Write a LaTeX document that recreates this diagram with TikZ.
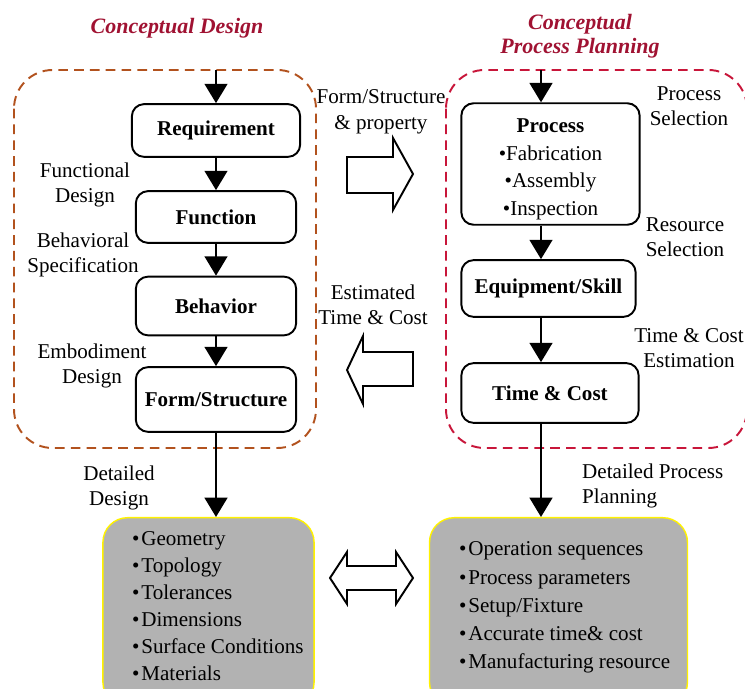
\documentclass[tikz,border=0pt]{standalone}
\usepackage{fontspec}
\setmainfont{Liberation Serif}
\usetikzlibrary{arrows.meta}
\definecolor{cdbrown}{RGB}{178,82,30}
\definecolor{cpred}{RGB}{200,22,58}
\definecolor{ttlred}{RGB}{160,18,50}
\definecolor{boxgray}{RGB}{178,178,178}
\def\px{0.5669pt}

\begin{document}
\begin{tikzpicture}[x=0.02cm,y=-0.02cm,
  every node/.style={font=\fontsize{12}{14.5}\selectfont},
  blk/.style={draw,line width=1.1pt,rounded corners=7pt,align=center,inner sep=0pt,
    font=\fontsize{12}{14.5}\selectfont\bfseries},
  lbl/.style={align=center},
  ttl/.style={align=center,text=ttlred,font=\fontsize{12.5}{13.6}\selectfont\bfseries\itshape},
  arr/.style={line width=1.1pt,-{Triangle[width=13pt,length=11pt]}},
  hollow/.style={line width=1.1pt,fill=white,line join=miter},
  grp/.style={line width=1.1pt,dash pattern=on 5.5pt off 3.5pt,rounded corners=22pt},
  res/.style={draw=yellow,line width=0.8pt,fill=boxgray,rounded corners=14pt,inner sep=0pt}]
  \useasboundingbox (0,0) rectangle (745,689);
  % groups
  \draw[grp,cdbrown] (14,70) rectangle (316,448);
  \draw[grp,cpred] (446,70) rectangle (747,448);
  \node[ttl] (ttlL) at (177,28) {Conceptual Design};
  \node[ttl] (ttlR) at (580,36) {Conceptual\\Process Planning};
  % conceptual design column
  \node[blk,minimum width=169*\px,minimum height=53*\px] (req) at (216,130.5) {Requirement};
  \node[blk,minimum width=161*\px,minimum height=52*\px] (func) at (216,217) {Function};
  \node[blk,minimum width=161*\px,minimum height=59*\px] (beh) at (216,306) {Behavior};
  \node[blk,minimum width=161*\px,minimum height=65*\px] (form) at (216,399.5) {Form/Structure};
  % process planning column
  \node[blk,minimum width=179*\px,minimum height=122*\px,font=\fontsize{12}{15.6}\selectfont]
    (proc) at (550.5,164) {\rule{0pt}{14pt}\textbf{Process}\\\textbullet Fabrication\\\textbullet Assembly\\\textbullet Inspection};
  \node[blk,minimum width=175*\px,minimum height=57*\px] (equip) at (548.5,288.5) {Equipment/Skill};
  \node[blk,minimum width=178*\px,minimum height=60*\px] (tc) at (550,393) {Time \& Cost};
  % detailed results
  \node[res,minimum width=212*\px,minimum height=190*\px,anchor=north] (geo) at (208.5,517) {};
  \node[res,minimum width=259*\px,minimum height=190*\px,anchor=north] (ops) at (558.5,517) {};
  \node[align=left,anchor=west,font=\fontsize{12}{15.4}\selectfont] (geolist) at (126,606)
    {\textbullet\hspace{1pt}Geometry\\\textbullet\hspace{1pt}Topology\\\textbullet\hspace{1pt}Tolerances\\\textbullet\hspace{1pt}Dimensions\\\textbullet\hspace{1pt}Surface Conditions\\\textbullet\hspace{1pt}Materials};
  \node[align=left,anchor=west,font=\fontsize{12}{16}\selectfont] (opslist) at (453,607.5)
    {\textbullet\hspace{1pt}Operation sequences\\\textbullet\hspace{1pt}Process parameters\\\textbullet\hspace{1pt}Setup/Fixture\\\textbullet\hspace{1pt}Accurate time\& cost\\\textbullet\hspace{1pt}Manufacturing resource};
  % labels
  \node[lbl] (lfd) at (85,185) {Functional\\Design};
  \node[lbl] (lbs) at (83,255) {Behavioral\\Specification};
  \node[lbl] (led) at (92,366) {Embodiment\\Design};
  \node[lbl] (ldd) at (119,488) {Detailed\\Design};
  \node[lbl] (lfs) at (381,112) {Form/Structure\\\& property};
  \node[lbl] (let) at (373,305) {Estimated\\Time \& Cost};
  \node[lbl] (lps) at (689,106) {Process\\Selection};
  \node[lbl] (lrs) at (685,237) {Resource\\Selection};
  \node[lbl] (ltc) at (689,348) {Time \& Cost\\Estimation};
  \node[align=left,anchor=west] (ldp) at (576,486) {Detailed Process\\Planning};
  % flow
  \coordinate (lc) at (216,70); \coordinate (rc) at (541,70);
  \draw[arr] (lc) -- (req);
  \draw[arr] (req) -- (func);
  \draw[arr] (func) -- (beh);
  \draw[arr] (beh) -- (form);
  \draw[arr] (form.south) -- (form.south |- geo.north);
  \draw[arr] (rc) -- (proc.north -| rc);
  \draw[arr] (proc.south -| rc) -- (equip.north -| rc);
  \draw[arr] (equip.south -| rc) -- (tc.north -| rc);
  \draw[arr] (tc.south -| rc) -- (ops.north -| rc);
  % exchange arrows
  \draw[hollow] (347,157) -- (393,157) -- (393,138) -- (413,174) -- (393,210) -- (393,193) -- (347,193) -- cycle;
  \draw[hollow] (413,352) -- (363,352) -- (363,336) -- (347,370) -- (363,404) -- (363,386) -- (413,386) -- cycle;
  \draw[hollow] (330,578) -- (347,552) -- (347,566) -- (396,566) -- (396,552) -- (413,578)
    -- (396,604) -- (396,590) -- (347,590) -- (347,604) -- cycle;
\end{tikzpicture}
\end{document}
